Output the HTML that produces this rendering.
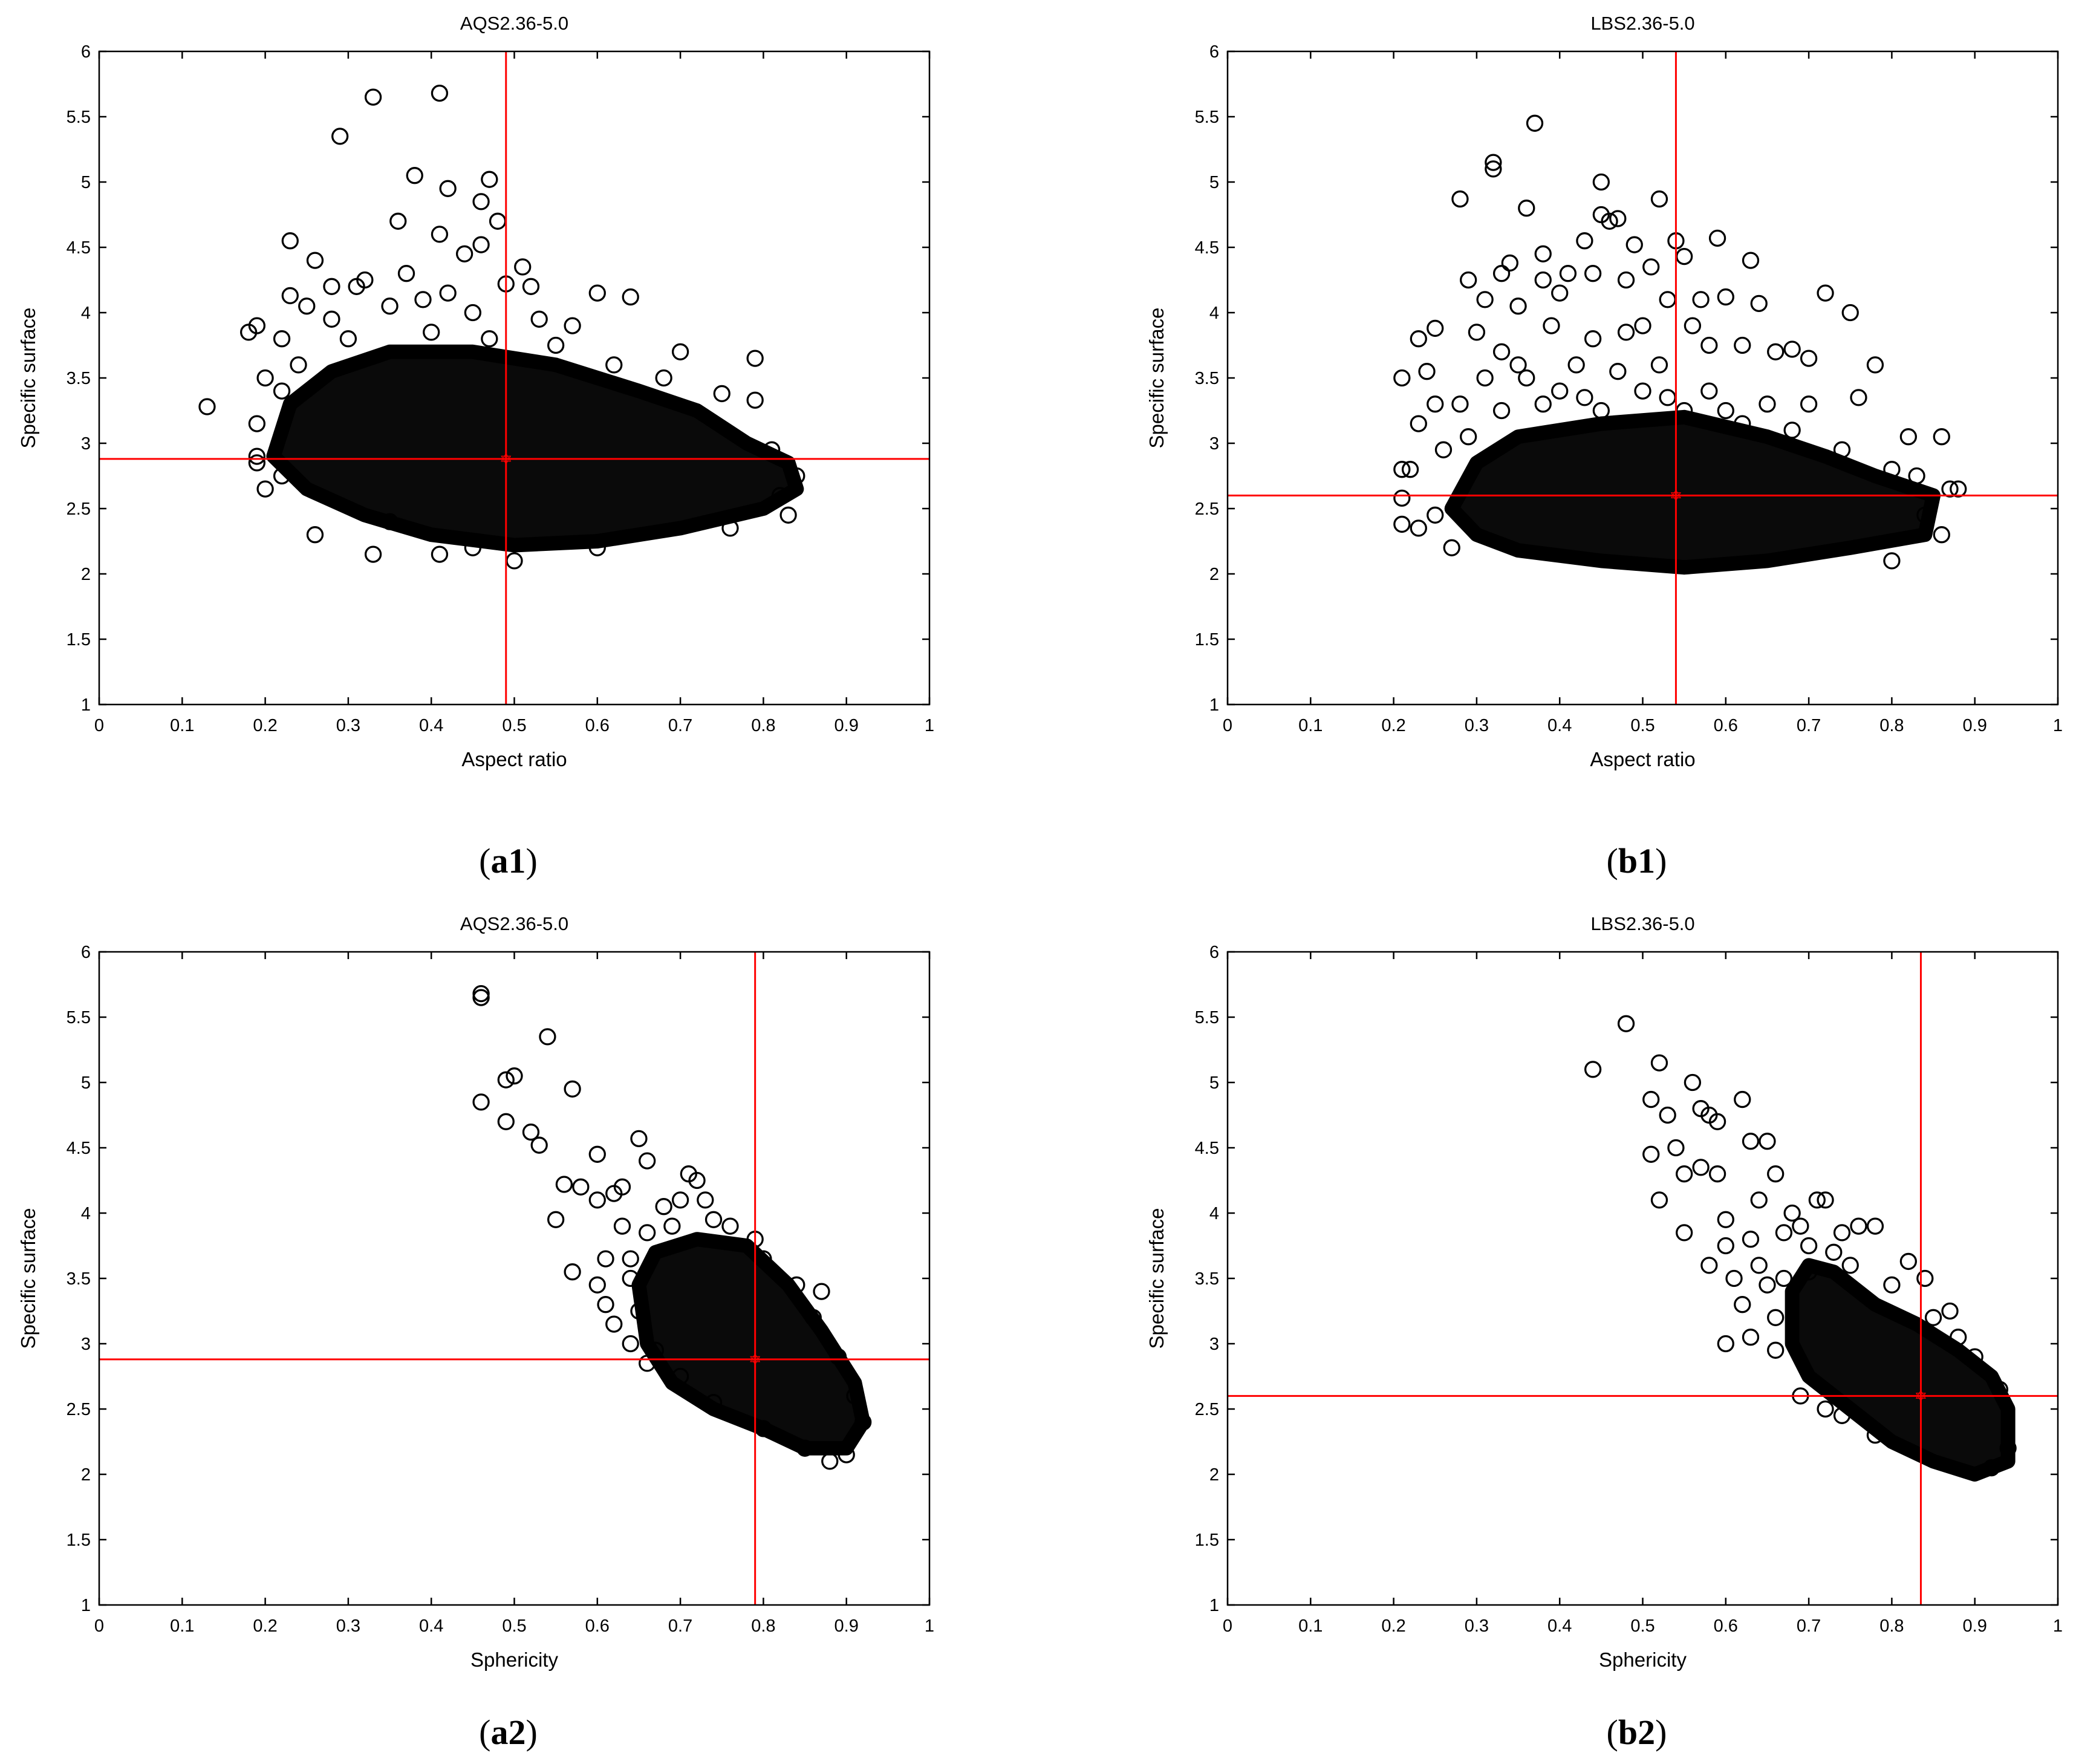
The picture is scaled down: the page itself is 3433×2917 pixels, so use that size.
<!DOCTYPE html>
<html><head><meta charset="utf-8">
<style>
html,body{margin:0;padding:0;background:#fff;}
svg{display:block;font-family:"Liberation Sans",Arial,sans-serif;}
</style></head>
<body>
<svg id="fig" width="3433" height="2917" viewBox="0 0 3433 2917" xmlns="http://www.w3.org/2000/svg"></svg>
<script>
// ---- data ----
const xTicks = [0,0.1,0.2,0.3,0.4,0.5,0.6,0.7,0.8,0.9,1];
const yTicks = [1,1.5,2,2.5,3,3.5,4,4.5,5,5.5,6];
const yTickLabels = ["1","1.5","2","2.5","3","3.5","4","4.5","5","5.5","6"];
const xTickLabels = ["0","0.1","0.2","0.3","0.4","0.5","0.6","0.7","0.8","0.9","1"];

const titles = ["AQS2.36-5.0","LBS2.36-5.0","AQS2.36-5.0","LBS2.36-5.0"];
const xLabels = ["Aspect ratio","Aspect ratio","Sphericity","Sphericity"];
const panelLabels = [["a","1"],["b","1"],["a","2"],["b","2"]];

const meanA1 = [0.49,2.88];
const meanB1 = [0.54,2.60];
const meanA2 = [0.79,2.88];
const meanB2 = [0.835,2.60];

// dense core region outlines (data units)
const coreA1 = [[0.21,2.9],[0.23,3.3],[0.28,3.55],[0.35,3.7],[0.45,3.7],[0.55,3.6],[0.65,3.4],[0.72,3.25],[0.78,3.0],[0.83,2.85],[0.84,2.65],[0.8,2.5],[0.7,2.35],[0.6,2.25],[0.5,2.22],[0.4,2.3],[0.32,2.45],[0.25,2.65]];
const coreB1 = [[0.27,2.5],[0.3,2.85],[0.35,3.05],[0.45,3.15],[0.55,3.2],[0.65,3.05],[0.72,2.9],[0.78,2.75],[0.85,2.6],[0.84,2.3],[0.75,2.2],[0.65,2.1],[0.55,2.05],[0.45,2.1],[0.35,2.18],[0.3,2.3]];
const coreA2 = [[0.65,3.45],[0.67,3.7],[0.72,3.8],[0.78,3.75],[0.83,3.45],[0.87,3.1],[0.91,2.7],[0.92,2.4],[0.9,2.2],[0.85,2.2],[0.8,2.35],[0.74,2.5],[0.69,2.7],[0.66,3.0]];
const coreB2 = [[0.68,3.4],[0.7,3.6],[0.73,3.55],[0.78,3.3],[0.83,3.15],[0.88,2.95],[0.92,2.75],[0.94,2.5],[0.94,2.1],[0.9,2.0],[0.85,2.1],[0.8,2.25],[0.75,2.5],[0.7,2.75],[0.68,3.0]];

// individual points
const ptsA1 = [[0.13,3.28],[0.18,3.85],[0.19,3.9],[0.19,2.9],[0.19,2.85],[0.19,3.15],[0.2,2.65],[0.2,3.5],[0.22,3.8],[0.23,4.55],[0.23,4.13],[0.25,4.05],[0.26,4.4],[0.26,2.3],[0.28,4.2],[0.28,3.95],[0.29,5.35],[0.31,4.2],[0.32,4.25],[0.33,5.65],[0.35,4.05],[0.36,4.7],[0.37,4.3],[0.38,5.05],[0.39,4.1],[0.41,5.68],[0.41,4.6],[0.42,4.95],[0.42,4.15],[0.44,4.45],[0.45,4.0],[0.46,4.85],[0.47,5.02],[0.48,4.7],[0.46,4.52],[0.49,4.22],[0.51,4.35],[0.52,4.2],[0.53,3.95],[0.57,3.9],[0.6,4.15],[0.64,4.12],[0.7,3.7],[0.79,3.65],[0.79,3.33],[0.84,2.75],[0.83,2.45],[0.5,2.1],[0.41,2.15],[0.33,2.15],[0.76,2.35],[0.35,2.4],[0.68,3.5],[0.75,3.38],[0.3,3.8],[0.4,3.85],[0.47,3.8],[0.55,3.75],[0.62,3.6],[0.24,3.6],[0.22,3.4],[0.22,2.75],[0.81,2.95],[0.82,2.6],[0.6,2.2],[0.45,2.2]];
const ptsB1 = [[0.21,2.8],[0.21,2.58],[0.21,2.38],[0.21,3.5],[0.22,2.8],[0.23,3.15],[0.23,2.35],[0.23,3.8],[0.24,3.55],[0.25,3.3],[0.25,3.88],[0.28,4.87],[0.29,4.25],[0.3,3.85],[0.31,4.1],[0.32,5.15],[0.32,5.1],[0.33,4.3],[0.33,3.7],[0.34,4.38],[0.35,4.05],[0.36,4.8],[0.37,5.45],[0.38,4.45],[0.38,4.25],[0.39,3.9],[0.4,4.15],[0.41,4.3],[0.43,4.55],[0.44,4.3],[0.45,5.0],[0.45,4.75],[0.46,4.7],[0.47,4.72],[0.48,4.25],[0.49,4.52],[0.5,3.9],[0.51,4.35],[0.52,4.87],[0.53,4.1],[0.54,4.55],[0.55,4.43],[0.56,3.9],[0.57,4.1],[0.58,3.75],[0.59,4.57],[0.6,4.12],[0.62,3.75],[0.63,4.4],[0.64,4.07],[0.66,3.7],[0.68,3.72],[0.72,4.15],[0.7,3.65],[0.75,4.0],[0.78,3.6],[0.7,3.3],[0.76,3.35],[0.82,3.05],[0.86,3.05],[0.87,2.65],[0.86,2.3],[0.8,2.1],[0.42,3.6],[0.36,3.5],[0.47,3.55],[0.52,3.6],[0.44,3.8],[0.4,3.4],[0.31,3.5],[0.28,3.3],[0.58,3.4],[0.65,3.3],[0.35,3.6],[0.48,3.85],[0.55,3.25],[0.38,3.3],[0.43,3.35],[0.5,3.4],[0.6,3.25],[0.33,3.25],[0.27,2.2],[0.25,2.45],[0.29,3.05],[0.26,2.95],[0.45,3.25],[0.53,3.35],[0.62,3.15],[0.68,3.1],[0.74,2.95],[0.8,2.8],[0.83,2.75],[0.88,2.65],[0.84,2.45]];
const ptsA2 = [[0.46,5.68],[0.46,5.65],[0.46,4.85],[0.49,5.02],[0.5,5.05],[0.49,4.7],[0.52,4.62],[0.53,4.52],[0.54,5.35],[0.57,4.95],[0.55,3.95],[0.57,3.55],[0.56,4.22],[0.58,4.2],[0.6,4.1],[0.6,4.45],[0.6,3.45],[0.61,3.65],[0.62,4.15],[0.63,4.2],[0.61,3.3],[0.62,3.15],[0.64,3.0],[0.65,4.57],[0.66,4.4],[0.63,3.9],[0.64,3.65],[0.66,2.85],[0.7,4.1],[0.71,4.3],[0.72,4.25],[0.74,3.95],[0.79,3.8],[0.87,3.4],[0.9,2.15],[0.92,2.4],[0.88,2.1],[0.64,3.5],[0.68,4.05],[0.66,3.85],[0.69,3.9],[0.73,4.1],[0.76,3.9],[0.8,3.65],[0.84,3.45],[0.86,3.2],[0.89,2.9],[0.91,2.6],[0.65,3.25],[0.67,2.95],[0.7,2.75],[0.74,2.55],[0.8,2.35],[0.85,2.2]];
const ptsB2 = [[0.44,5.1],[0.48,5.45],[0.51,4.87],[0.51,4.45],[0.52,4.1],[0.52,5.15],[0.53,4.75],[0.54,4.5],[0.55,3.85],[0.55,4.3],[0.56,5.0],[0.57,4.8],[0.58,4.75],[0.59,4.7],[0.57,4.35],[0.58,3.6],[0.59,4.3],[0.6,3.95],[0.61,3.5],[0.6,3.0],[0.62,4.87],[0.63,4.55],[0.64,4.1],[0.62,3.3],[0.63,3.8],[0.65,3.45],[0.66,4.3],[0.67,3.85],[0.68,4.0],[0.66,2.95],[0.65,4.55],[0.69,3.9],[0.71,4.1],[0.72,4.1],[0.74,3.85],[0.76,3.9],[0.78,3.9],[0.82,3.63],[0.84,3.5],[0.87,3.25],[0.88,3.05],[0.69,2.6],[0.72,2.5],[0.6,3.75],[0.7,3.55],[0.64,3.6],[0.66,3.2],[0.67,3.5],[0.7,3.75],[0.73,3.7],[0.75,3.6],[0.8,3.45],[0.85,3.2],[0.9,2.9],[0.93,2.65],[0.94,2.2],[0.92,2.05],[0.78,2.3],[0.74,2.45],[0.63,3.05]];

const panels = [
  {ox:164, oy:85,  core:coreA1, pts:ptsA1, mean:meanA1, lblY:1423},
  {ox:2030,oy:85,  core:coreB1, pts:ptsB1, mean:meanB1, lblY:1423},
  {ox:164, oy:1574,core:coreA2, pts:ptsA2, mean:meanA2, lblY:2864},
  {ox:2030,oy:1574,core:coreB2, pts:ptsB2, mean:meanB2, lblY:2864}
];
const PW = 1373, PH = 1080;
const NS = "http://www.w3.org/2000/svg";
const svg = document.getElementById('fig');
function mk(tag, attrs, parent){
  const e = document.createElementNS(NS, tag);
  for (const k in attrs) e.setAttribute(k, attrs[k]);
  (parent||svg).appendChild(e);
  return e;
}

panels.forEach((p, i) => {
  const sx = v => p.ox + v * PW;
  const sy = v => p.oy + PH - (v - 1) / 5 * PH;
  const g = mk('g', {});
  
  

  // core cloud
  const poly = mk('polygon', {points: p.core.map(d => sx(d[0]) + ',' + sy(d[1])).join(' '),
    fill:'#0a0a0a', stroke:'#000', 'stroke-width':24, 'stroke-linejoin':'round'}, g);
  
  

  // points
  p.pts.forEach(d => {
    const c = mk('circle', {cx:sx(d[0]), cy:sy(d[1]), r:12.5, fill:'none', stroke:'#000', 'stroke-width':3.3}, g);
    
    
  });

  // mean lines
  const vl = mk('line', {x1:sx(p.mean[0]), x2:sx(p.mean[0]), y1:p.oy, y2:p.oy+PH, stroke:'#ff0000', 'stroke-width':3}, g);
  
  
  const hl = mk('line', {x1:p.ox, x2:p.ox+PW, y1:sy(p.mean[1]), y2:sy(p.mean[1]), stroke:'#ff0000', 'stroke-width':3}, g);
  
  
  const mm = mk('text', {x:sx(p.mean[0]), y:sy(p.mean[1])+9, 'text-anchor':'middle', 'font-size':26, fill:'#ff0000'}, g);
  mm.textContent = '✡';
  
  

  // axes box
  const box = mk('rect', {x:p.ox, y:p.oy, width:PW, height:PH, fill:'none', stroke:'#000', 'stroke-width':2.5}, g);
  
  

  xTicks.forEach((t, k) => {
    const x = sx(t);
    mk('line', {x1:x, x2:x, y1:p.oy+PH, y2:p.oy+PH-12, stroke:'#000', 'stroke-width':2.5}, g);
    mk('line', {x1:x, x2:x, y1:p.oy, y2:p.oy+12, stroke:'#000', 'stroke-width':2.5}, g);
    const tl = mk('text', {x:x, y:p.oy+PH+44, 'text-anchor':'middle', 'font-size':29}, g);
    tl.textContent = xTickLabels[k];
    
    
  });
  yTicks.forEach((t, k) => {
    const y = sy(t);
    mk('line', {x1:p.ox, x2:p.ox+12, y1:y, y2:y, stroke:'#000', 'stroke-width':2.5}, g);
    mk('line', {x1:p.ox+PW, x2:p.ox+PW-12, y1:y, y2:y, stroke:'#000', 'stroke-width':2.5}, g);
    const tl = mk('text', {x:p.ox-14, y:y+10, 'text-anchor':'end', 'font-size':29}, g);
    tl.textContent = yTickLabels[k];
    
    
  });

  const tt = mk('text', {x:p.ox+PW/2, y:p.oy-36, 'text-anchor':'middle', 'font-size':31}, g);
  tt.textContent = titles[i];
  
  

  const xl = mk('text', {x:p.ox+PW/2, y:p.oy+PH+102, 'text-anchor':'middle', 'font-size':33}, g);
  xl.textContent = xLabels[i];
  
  

  const yx = p.ox - 106, yy = p.oy + PH/2;
  const yl = mk('text', {x:yx, y:yy, 'text-anchor':'middle', 'font-size':33, transform:'rotate(-90 '+yx+' '+yy+')'}, g);
  yl.textContent = 'Specific surface';
  
  

  const pl = mk('text', {x:p.ox+PW/2 - 10, y:p.lblY+20, 'text-anchor':'middle', 'font-size':58, 'font-family':'"Liberation Serif",serif'}, g);
  const t1 = mk('tspan', {}, pl); t1.textContent = '(';
  const t2 = mk('tspan', {'font-weight':'bold'}, pl); t2.textContent = panelLabels[i][0] + panelLabels[i][1];
  const t3 = mk('tspan', {}, pl); t3.textContent = ')';
  
  
});
</script>
</body></html>
